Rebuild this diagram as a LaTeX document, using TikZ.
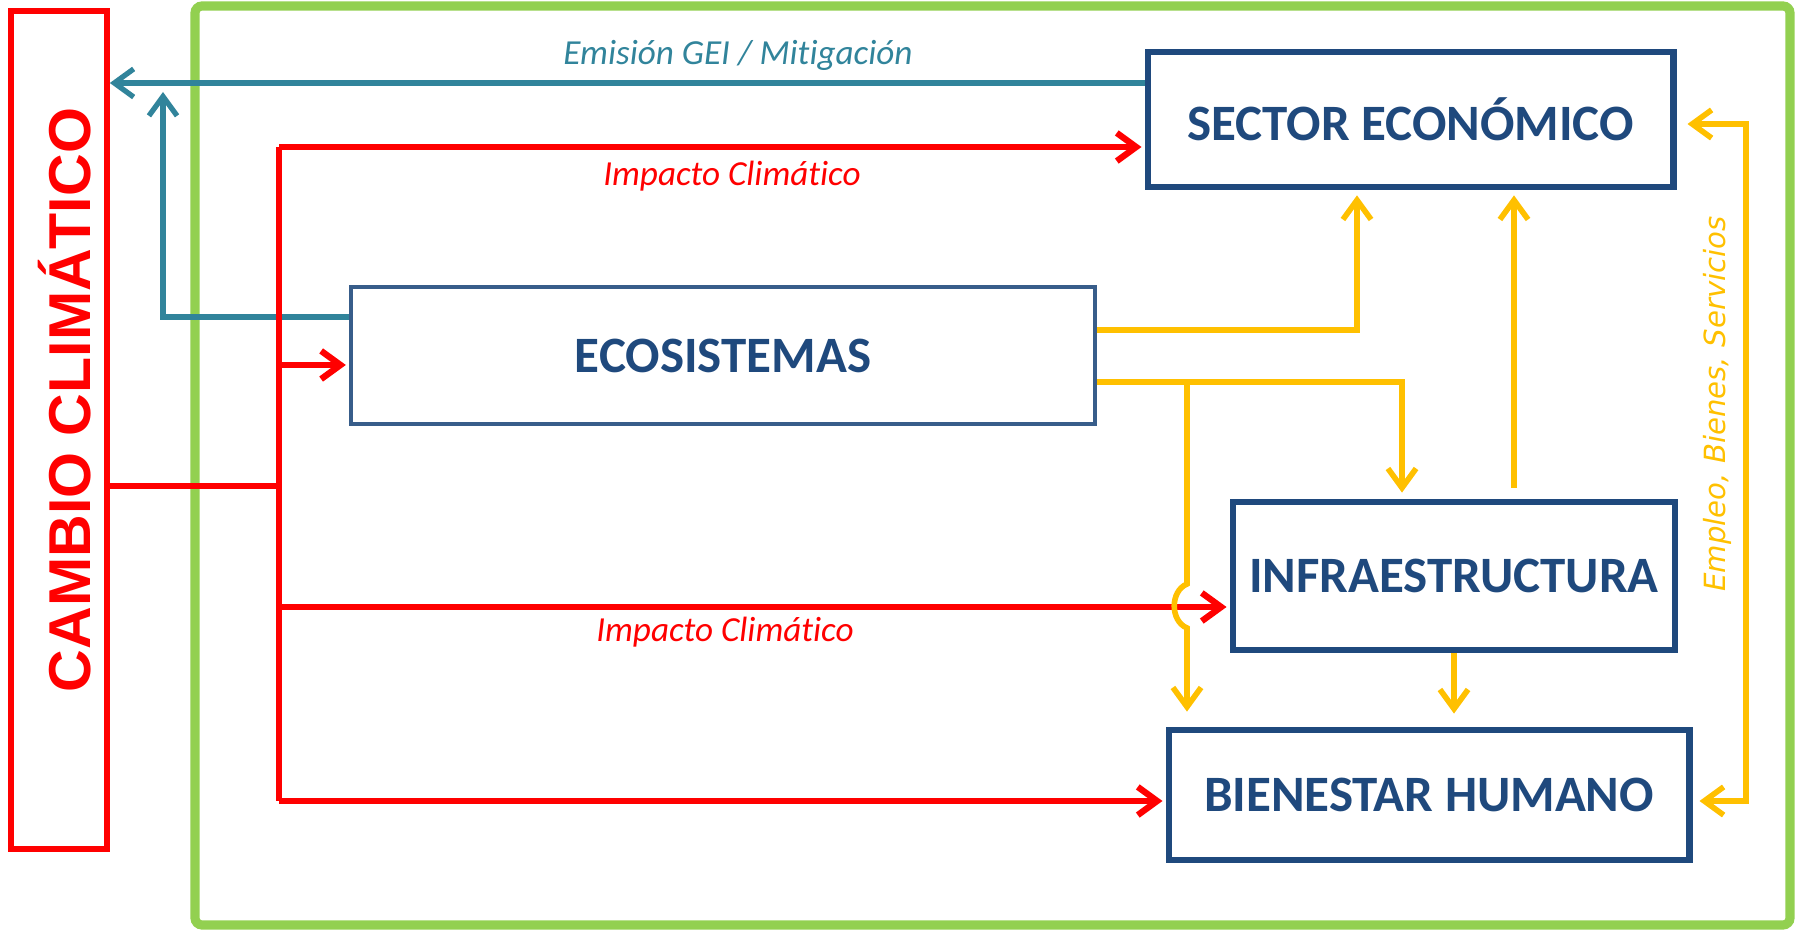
\documentclass[tikz,border=0pt]{standalone}
\usepackage{fontspec}
\setmainfont{Carlito}[Ligatures=NoCommon]
\newfontfamily\arialfont{Liberation Sans}
\newfontfamily\verdfont{DejaVu Sans}
\usetikzlibrary{arrows.meta}

\definecolor{navy}{HTML}{1F497D}
\definecolor{ecoborde}{HTML}{385D8A}
\definecolor{rojo}{HTML}{FF0000}
\definecolor{verde}{HTML}{92D050}
\definecolor{azulv}{HTML}{31849B}
\definecolor{oro}{HTML}{FFC000}

\tikzset{
  caja/.style={draw=navy, line width=1.9pt, text=navy, inner sep=0pt,
    font=\bfseries\fontsize{14.5}{17}\selectfont},
  rojolinea/.style={draw=rojo, line width=1.8pt},
  rojoarr/.style={rojolinea, -{Straight Barb[length=5.5pt,width=8pt]}},
  azularr/.style={draw=azulv, line width=1.5pt, -{Straight Barb[length=5.5pt,width=8pt]}},
  oroarr/.style={draw=oro, line width=1.6pt, -{Straight Barb[length=5.5pt,width=8pt]}},
  etiqueta/.style={font=\itshape\fontsize{10}{12}\selectfont},
}

\begin{document}
\begin{tikzpicture}[x=0.01cm, y=-0.01cm]
  \useasboundingbox (0,0) rectangle (1799,931);

  % 外框
  \draw[verde, line width=2.6pt, rounded corners=2pt] (195,6) rectangle (1790,925);

  \node[draw=rojo, line width=1.6pt, minimum width=0.96cm, minimum height=8.38cm] (cambio) at (59,430) {};
  \node[rotate=90, text=rojo, font=\arialfont\bfseries\fontsize{16.8}{20}\selectfont] (cambiotxt) at (65,400) {CAMBIO CLIMÁTICO};

  % 方框
  \node[caja, minimum width=5.25cm, minimum height=1.35cm] (sector) at (1410.5,119.5) {SECTOR ECONÓMICO};
  \node[caja, draw=ecoborde, line width=1.1pt, minimum width=7.44cm, minimum height=1.37cm] (eco) at (723,355.5) {ECOSISTEMAS};
  \node[caja, minimum width=4.42cm, minimum height=1.48cm] (infra) at (1454,576) {INFRAESTRUCTURA};
  \node[caja, minimum width=5.20cm, minimum height=1.30cm] (bien) at (1429,795) {BIENESTAR HUMANO};

  % 排放 / 减缓
  \draw[azularr] (sector.west |- 0,83) -- (cambio.east |- 0,83);
  \coordinate (mitig) at (163,92);
  \draw[azularr] (eco.west |- 0,317) -| (mitig);
  \node[etiqueta, text=azulv] (emision) at (738,55) {Emisión GEI / Mitigación};

  % 气候影响
  \coordinate (tronco-a) at (279,147);
  \coordinate (tronco-b) at (279,801);
  \draw[rojolinea] (tronco-a) -- (tronco-b);
  \draw[rojolinea] (cambio.east |- 0,486) -- (tronco-a |- 0,486);
  \foreach \y/\t in {147/sector, 365/eco, 607/infra, 801/bien}
    \draw[rojoarr, shorten >=0.03cm] (tronco-a |- 0,\y) -- (\t.west |- 0,\y);
  \node[etiqueta, text=rojo] (impacto1) at (732,176) {Impacto Climático};
  \node[etiqueta, text=rojo] (impacto2) at (725,632) {Impacto Climático};

  % 生态系统服务
  \draw[oroarr, shorten >=0.05cm] (eco.east |- 0,330) -| (sector.south -| 1357,0);
  \draw[oroarr, shorten >=0.06cm] (eco.east |- 0,382) -| (infra.north -| 1402,0);
  \coordinate (rama) at (1187,382);
  \draw[oroarr, shorten >=0.15cm] (rama) -- (1187,584)
    .. controls (1170,591) and (1170,621) .. (1187,628) -- (bien.north -| rama);
  \draw[oroarr, shorten <=0.11cm, shorten >=0.05cm] (infra.north -| 1514,0) -- (sector.south -| 1514,0);
  \draw[oroarr, shorten >=0.13cm] (infra.south) -- (bien.north -| infra.south);
  \draw[oroarr, {Straight Barb[length=5.5pt,width=8pt]}-{Straight Barb[length=5.5pt,width=8pt]},
    shorten <=0.11cm, shorten >=0.07cm]
    (sector.east |- 0,124) -| (1746,801) -- (bien.east |- 0,801);
  \node[rotate=90, text=oro, font=\verdfont\itshape\fontsize{8.3}{10}\selectfont] (empleo) at (1717,404) {Empleo, Bienes, Servicios};
\end{tikzpicture}
\end{document}
